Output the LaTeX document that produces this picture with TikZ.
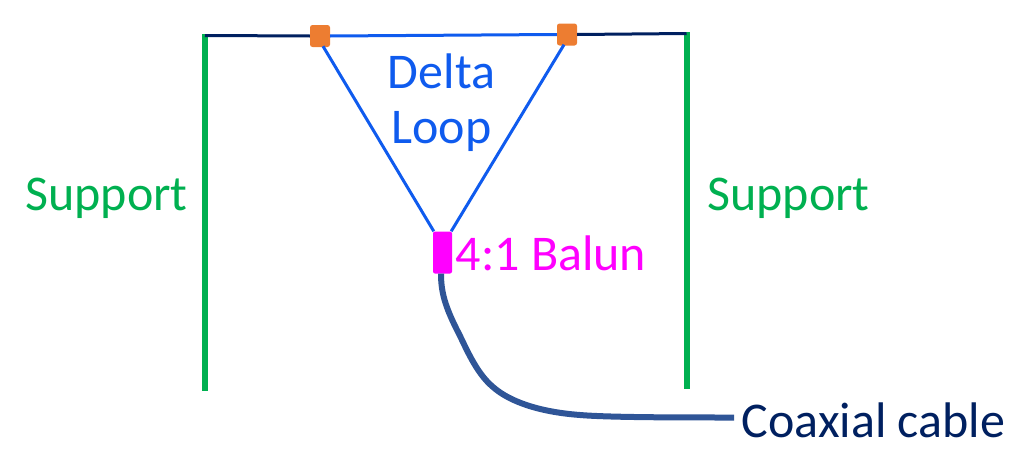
\documentclass[tikz,border=0pt]{standalone}
\usepackage{fontspec}
\usetikzlibrary{calc}
\setmainfont{Carlito}
\definecolor{sgreen}{HTML}{00B050}
\definecolor{sblue}{HTML}{0F5BEE}
\definecolor{snavy}{HTML}{002060}
\definecolor{sorange}{HTML}{ED7D31}
\definecolor{scable}{HTML}{2F5597}
\definecolor{smag}{HTML}{FF00FF}
\tikzset{
 pole/.style={draw=sgreen,line width=6pt},
 wire/.style={draw=sblue,line width=3pt},
 span/.style={draw=snavy,line width=3pt},
 insul/.style={fill=sorange,rounded corners=2.5pt,minimum width=20pt,minimum height=22pt,inner sep=0pt},
 lbl/.style={inner sep=0pt,font=\fontsize{50}{54}\selectfont},
}
\begin{document}
\begin{tikzpicture}[x=1pt,y=-1pt]
\useasboundingbox (0,0) rectangle (1018,463);
\coordinate (ltop) at (205,34);
\coordinate (lbot) at (205,391);
\coordinate (rtop) at (686.5,32);
\coordinate (rbot) at (686.5,389);
\coordinate (cableend) at (734,417.5);
\draw[pole] (ltop) -- (lbot);
\draw[pole] (rtop) -- (rbot);
\node[insul] (ins1) at (320,36) {};
\node[insul] (ins2) at (567,34.5) {};
\node[fill=smag,rounded corners=2pt,minimum width=19pt,minimum height=42pt,inner sep=0pt] (balun) at (442.5,252.5) {};
\draw[span] ($(ltop)+(0,1.5)$) -- (ins1.west);
\draw[span] (ins2.east) -- ($(rtop)+(0,1.5)$);
\draw[wire] (ins1.east) -- (ins2.west);
\draw[wire] ($(ins1.south)+(3,-1)$) -- ($(balun.north west)+(1,0)$);
\draw[wire] ($(ins2.south)+(-3,-1)$) -- ($(balun.north east)+(-1,0)$);
\draw[draw=scable,line width=6pt] ($(balun.south)+(-1.5,0)$) .. controls (441,292) and (445,306) .. (457,330) .. controls (465,345) and (475,372) .. (493,387) .. controls (510,402) and (540,412) .. (580,415) .. controls (610,417.5) and (680,417.5) .. (cableend);
\node[lbl,text=sgreen] (s1) at (106.5,198) {Support};
\node[lbl,text=sgreen] (s2) at (788.5,198) {Support};
\node[lbl,text=sblue] (d) at (441.5,71) {Delta};
\node[lbl,text=sblue] (l) at (441.5,131) {Loop};
\node[lbl,text=smag] (b) at (551,253.5) {4:1 Balun};
\node[lbl,text=snavy] (c) at (873.5,420.5) {Coaxial cable};
\end{tikzpicture}
\end{document}
